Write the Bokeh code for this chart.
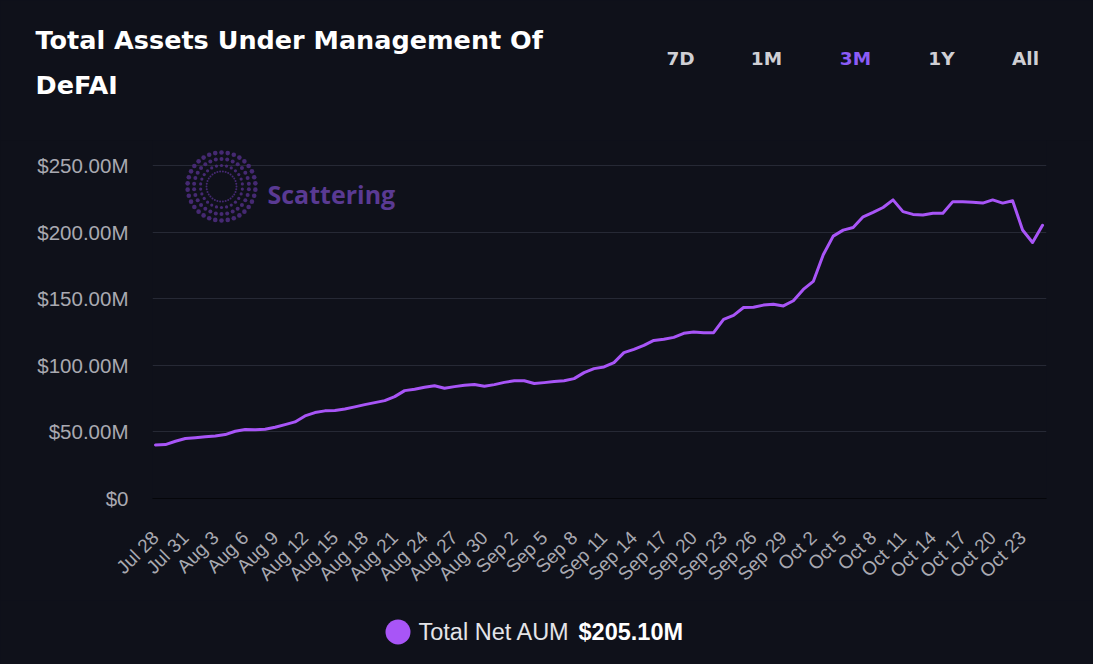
import math

import pandas as pd
from bokeh.embed import file_html
from bokeh.layouts import column
from bokeh.models import FixedTicker, Label, Range1d
from bokeh.plotting import figure
from bokeh.resources import INLINE

# ---- data -------------------------------------------------------------
start_date = "2025-07-28"
# Total net assets under management, millions of USD, one value per day
aum_musd = [
    40.2, 40.5, 43.0, 45.0, 45.6, 46.3, 47.0, 48.0, 50.5, 51.8,
    51.6, 52.0, 53.5, 55.5, 57.5, 62.0, 64.5, 65.8, 66.0, 67.2,
    68.8, 70.5, 72.0, 73.5, 76.5, 81.0, 82.0, 83.5, 84.7, 82.8,
    84.0, 85.0, 85.6, 84.3, 85.5, 87.2, 88.4, 88.4, 86.3, 87.0,
    87.8, 88.4, 90.0, 94.5, 97.5, 98.8, 102.0, 109.5, 112.0, 115.0,
    118.7, 119.5, 121.0, 124.0, 125.0, 124.5, 124.5, 134.5, 137.5, 143.4,
    143.6, 145.2, 145.8, 144.6, 148.5, 157.0, 163.0, 183.0, 197.0, 201.5,
    203.5, 211.5, 214.8, 218.5, 224.2, 215.4, 213.3, 212.9, 214.2, 214.2,
    222.9, 222.8, 222.4, 221.8, 224.2, 221.8, 223.6, 201.6, 192.2, 205.1,
]
dates = pd.date_range(start_date, periods=len(aum_musd), freq="D")
day_idx = list(range(len(aum_musd)))

tick_days = list(range(0, len(aum_musd) - 2, 3))
tick_labels = [f"{dates[i]:%b} {dates[i].day}" for i in tick_days]

y_ticks = [0, 50, 100, 150, 200, 250]
y_tick_labels = ["$0", "$50.00M", "$100.00M", "$150.00M", "$200.00M", "$250.00M"]

range_buttons = ["7D", "1M", "3M", "1Y", "All"]
active_button = "3M"
series_name = "Total Net AUM"
latest_text = f"${aum_musd[-1]:.2f}M"
chart_title = ["Total Assets Under Management Of", "DeFAI"]

# ---- layout / style ---------------------------------------------------
W = 1093
HEADER_H, MAIN_H, FOOTER_H = 140, 460, 64
FRAME_L, FRAME_R = 152, 1046
FRAME_H = 358  # plot area height inside the main figure
BG = "#0f111a"
PURPLE = "#a855f7"
GRID = "#262935"
TICK_TXT = "#a9a9b1"
HEAD_FONT = "DejaVu Sans"


def blank_panel(height, y_top):
    """A figure without axes whose coordinates are page pixels (y downward)."""
    f = figure(width=W, height=height, output_backend="svg", toolbar_location=None,
               title=None, x_range=Range1d(0, W), y_range=Range1d(y_top + height, y_top),
               min_border=0, background_fill_color=BG, border_fill_color=BG,
               outline_line_color=None, x_axis_type=None, y_axis_type=None)
    f.grid.visible = False
    f.frame_align = False
    return f


def add_text(f, text, cx, cy, size, color, font="Liberation Sans", bold=False,
             align="left", baseline="alphabetic"):
    f.add_layout(Label(
        x=cx, y=cy, text=text, text_font=font, text_font_size=f"{size}px",
        text_font_style="bold" if bold else "normal", text_color=color,
        text_align=align, text_baseline=baseline,
    ))


# ---- header: title and range selector -----------------------------------
header = blank_panel(HEADER_H, 0)
add_text(header, chart_title[0], 35, 39, 25.5, "#ffffff", font=HEAD_FONT, bold=True)
add_text(header, chart_title[1], 35, 84, 25.5, "#ffffff", font=HEAD_FONT, bold=True)
button_x = [680, 766, 855, 941, 1025]
for name, bx in zip(range_buttons, button_x):
    add_text(header, name, bx, 58, 18.5,
             "#8b5cf6" if name == active_button else "#cfcfd4",
             font=HEAD_FONT, bold=True, align="center")

# ---- main chart ----------------------------------------------------------
x_start, x_end = -0.3, len(aum_musd) - 1 + 0.4
y_start, y_end = 0, 268.8

p = figure(
    width=W, height=MAIN_H, output_backend="svg", toolbar_location=None, title=None,
    x_range=Range1d(x_start, x_end), y_range=Range1d(y_start, y_end),
    min_border_left=FRAME_L, min_border_right=W - FRAME_R,
    min_border_top=0, min_border_bottom=MAIN_H - FRAME_H,
    background_fill_color=BG, border_fill_color=BG, outline_line_color=None,
)
p.frame_align = False

px_per_day = (FRAME_R - FRAME_L) / (x_end - x_start)
px_per_m = FRAME_H / (y_end - y_start)

# x axis: date labels every third day
p.xaxis.ticker = FixedTicker(ticks=tick_days)
p.xaxis.major_label_overrides = dict(zip(tick_days, tick_labels))
p.xaxis.major_label_orientation = math.pi / 4
p.xaxis.axis_line_color = "#05060a"
p.xaxis.axis_line_width = 1
p.xaxis.major_tick_line_color = None
p.xaxis.minor_tick_line_color = None
p.xaxis.major_tick_out = 0
p.xaxis.minor_tick_out = 0
p.xaxis.major_label_standoff = 36
p.xaxis.major_label_text_font = "Liberation Sans"
p.xaxis.major_label_text_font_size = "19px"
p.xaxis.major_label_text_color = TICK_TXT

# y axis: dollar labels
p.yaxis.ticker = FixedTicker(ticks=y_ticks)
p.yaxis.major_label_overrides = dict(zip(y_ticks, y_tick_labels))
p.yaxis.axis_line_color = None
p.yaxis.major_tick_line_color = None
p.yaxis.minor_tick_line_color = None
p.yaxis.major_tick_out = 0
p.yaxis.minor_tick_out = 0
p.yaxis.major_label_standoff = 24
p.yaxis.major_label_text_font = "Liberation Sans"
p.yaxis.major_label_text_font_size = "20.5px"
p.yaxis.major_label_text_color = TICK_TXT

p.xgrid.grid_line_color = None
p.ygrid.ticker = FixedTicker(ticks=y_ticks)
p.ygrid.grid_line_color = GRID
p.ygrid.grid_line_width = 1


def frame_px_to_data(px, py):
    """Pixel offset inside the plot area (from its top-left) to data units."""
    return x_start + px / px_per_day, y_end - py / px_per_m


# watermark logo: concentric rings of dots
logo_cx, logo_cy = 221 - FRAME_L, 186 - HEADER_H
rings = [(15, 34, 2.0), (21, 26, 3.2), (27.5, 30, 4.0), (34, 34, 4.6)]
for r, n, sz in rings:
    xs, ys = [], []
    for k in range(n):
        a = 2 * math.pi * k / n + (math.pi / n if r > 20 else 0)
        dx, dy = frame_px_to_data(logo_cx + r * math.cos(a), logo_cy + r * math.sin(a))
        xs.append(dx)
        ys.append(dy)
    p.scatter(xs, ys, size=sz, marker="circle", fill_color="#4b2c7c",
              line_color=None, fill_alpha=0.9)

wm_x, wm_y = frame_px_to_data(267 - FRAME_L, 193 - HEADER_H)
p.add_layout(Label(x=wm_x, y=wm_y, text="Scattering", text_font="Open Sans",
                   text_font_size="25px", text_font_style="bold",
                   text_color="#5a3a93", text_align="left",
                   text_baseline="alphabetic"))

# the series
p.line(day_idx, aum_musd, line_color=PURPLE, line_width=3,
       line_join="round", line_cap="round")

# ---- footer: legend ------------------------------------------------------
footer_top = HEADER_H + MAIN_H
footer = blank_panel(FOOTER_H, footer_top)
footer.scatter([397.5], [631.5], size=25, marker="circle",
               fill_color=PURPLE, line_color=None)
add_text(footer, series_name, 418, 631, 23.5, "#e4e4e8")
add_text(footer, latest_text, 578, 631, 23.5, "#ffffff", bold=True)

page = column(header, p, footer, spacing=0, styles={"background-color": BG})

open("out.html", "w").write(file_html(page, INLINE))
